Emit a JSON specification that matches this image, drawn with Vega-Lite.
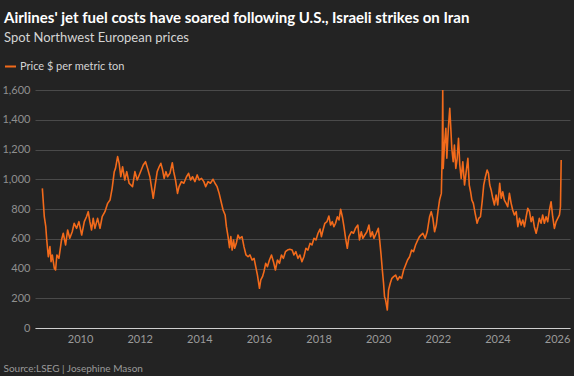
{
  "$schema": "https://vega.github.io/schema/vega-lite/v6.json",
  "width": 535,
  "height": 238,
  "autosize": {"type": "none"},
  "padding": {"left": 35, "top": 90, "right": 4, "bottom": 48},
  "background": "#232323",
  "config": {"view": {"stroke": null}, "font": "Lato"},
  "title": {
    "text": "Airlines' jet fuel costs have soared following U.S., Israeli strikes on Iran",
    "subtitle": "Spot Northwest European prices",
    "anchor": "start",
    "frame": "group",
    "dx": -31,
    "offset": 15,
    "font": "Lato",
    "fontSize": 15,
    "fontWeight": "bold",
    "color": "#ffffff",
    "subtitleFont": "Lato",
    "subtitleFontSize": 13,
    "subtitleColor": "#d4d4d4",
    "subtitlePadding": 6
  },
  "data": {"values": [
    {"date":"2008-09-26","price":939},{"date":"2008-10-20","price":748},{"date":"2008-11-07","price":681},{"date":"2008-11-19","price":592},
    {"date":"2008-12-08","price":479},{"date":"2008-12-28","price":547},{"date":"2009-01-11","price":446},{"date":"2009-01-26","price":491},
    {"date":"2009-02-20","price":401},{"date":"2009-03-07","price":390},{"date":"2009-03-23","price":491},{"date":"2009-04-17","price":468},
    {"date":"2009-05-19","price":592},{"date":"2009-06-09","price":637},{"date":"2009-07-08","price":558},{"date":"2009-08-02","price":659},
    {"date":"2009-08-28","price":603},{"date":"2009-09-27","price":647},{"date":"2009-10-21","price":704},{"date":"2009-11-20","price":670},
    {"date":"2009-12-18","price":715},{"date":"2010-01-21","price":625},{"date":"2010-02-22","price":715},{"date":"2010-03-21","price":748},
    {"date":"2010-04-11","price":782},{"date":"2010-05-01","price":715},{"date":"2010-05-22","price":659},{"date":"2010-06-11","price":737},
    {"date":"2010-07-02","price":670},{"date":"2010-08-04","price":737},{"date":"2010-09-02","price":670},{"date":"2010-09-29","price":748},
    {"date":"2010-11-02","price":782},{"date":"2010-12-05","price":838},{"date":"2011-01-03","price":860},{"date":"2011-01-29","price":939},
    {"date":"2011-02-24","price":1051},{"date":"2011-03-11","price":1073},{"date":"2011-04-06","price":1152},{"date":"2011-04-25","price":1107},
    {"date":"2011-05-15","price":1017},{"date":"2011-06-06","price":1084},{"date":"2011-07-03","price":995},{"date":"2011-07-27","price":1051},
    {"date":"2011-08-25","price":973},{"date":"2011-10-06","price":950},{"date":"2011-11-04","price":1051},{"date":"2011-12-02","price":995},
    {"date":"2012-01-05","price":1040},{"date":"2012-02-14","price":1096},{"date":"2012-03-13","price":1118},{"date":"2012-04-07","price":1073},
    {"date":"2012-05-05","price":1017},{"date":"2012-06-03","price":916},{"date":"2012-06-15","price":872},{"date":"2012-07-09","price":961},
    {"date":"2012-08-03","price":1051},{"date":"2012-08-27","price":1084},{"date":"2012-09-17","price":1107},{"date":"2012-10-08","price":1062},
    {"date":"2012-10-27","price":1006},{"date":"2012-11-18","price":1051},{"date":"2012-12-08","price":1017},{"date":"2013-01-06","price":1040},
    {"date":"2013-02-04","price":1111},{"date":"2013-02-21","price":1051},{"date":"2013-03-15","price":995},{"date":"2013-04-09","price":905},
    {"date":"2013-04-28","price":950},{"date":"2013-05-27","price":984},{"date":"2013-06-25","price":973},{"date":"2013-07-28","price":1017},
    {"date":"2013-08-22","price":1040},{"date":"2013-09-16","price":995},{"date":"2013-10-10","price":1017},{"date":"2013-11-08","price":984},
    {"date":"2013-12-06","price":1029},{"date":"2013-12-30","price":995},{"date":"2014-01-28","price":1006},{"date":"2014-02-25","price":984},
    {"date":"2014-03-20","price":950},{"date":"2014-04-18","price":984},{"date":"2014-05-17","price":973},{"date":"2014-06-18","price":1000},
    {"date":"2014-07-12","price":973},{"date":"2014-08-07","price":950},{"date":"2014-09-01","price":905},{"date":"2014-09-25","price":849},
    {"date":"2014-10-19","price":793},{"date":"2014-11-13","price":760},{"date":"2014-11-29","price":681},{"date":"2014-12-19","price":614},
    {"date":"2015-01-06","price":540},{"date":"2015-01-22","price":614},{"date":"2015-02-07","price":524},{"date":"2015-02-24","price":592},
    {"date":"2015-03-10","price":536},{"date":"2015-03-30","price":569},{"date":"2015-04-20","price":625},{"date":"2015-05-10","price":603},
    {"date":"2015-06-08","price":614},{"date":"2015-07-02","price":547},{"date":"2015-07-27","price":491},{"date":"2015-08-21","price":479},
    {"date":"2015-09-14","price":491},{"date":"2015-10-09","price":457},{"date":"2015-11-03","price":468},{"date":"2015-11-23","price":412},
    {"date":"2015-12-14","price":356},{"date":"2016-01-08","price":267},{"date":"2016-01-24","price":323},{"date":"2016-02-14","price":345},
    {"date":"2016-03-03","price":379},{"date":"2016-03-24","price":435},{"date":"2016-04-14","price":412},{"date":"2016-05-09","price":457},
    {"date":"2016-06-03","price":491},{"date":"2016-06-27","price":446},{"date":"2016-07-21","price":390},{"date":"2016-08-15","price":457},
    {"date":"2016-09-09","price":435},{"date":"2016-10-03","price":491},{"date":"2016-10-27","price":468},{"date":"2016-11-21","price":513},
    {"date":"2016-12-16","price":524},{"date":"2017-01-13","price":529},{"date":"2017-02-11","price":524},{"date":"2017-03-05","price":491},
    {"date":"2017-03-29","price":513},{"date":"2017-04-23","price":468},{"date":"2017-05-17","price":491},{"date":"2017-06-11","price":446},
    {"date":"2017-07-05","price":479},{"date":"2017-07-30","price":536},{"date":"2017-08-24","price":524},{"date":"2017-09-18","price":569},
    {"date":"2017-10-12","price":558},{"date":"2017-11-06","price":603},{"date":"2017-11-30","price":592},{"date":"2017-12-25","price":637},
    {"date":"2018-01-19","price":665},{"date":"2018-02-05","price":614},{"date":"2018-02-24","price":659},{"date":"2018-03-19","price":704},
    {"date":"2018-04-13","price":715},{"date":"2018-05-07","price":753},{"date":"2018-05-28","price":692},{"date":"2018-06-18","price":715},
    {"date":"2018-07-08","price":681},{"date":"2018-07-28","price":704},{"date":"2018-08-19","price":748},{"date":"2018-09-08","price":726},
    {"date":"2018-09-28","price":798},{"date":"2018-10-19","price":748},{"date":"2018-11-08","price":681},{"date":"2018-11-28","price":603},
    {"date":"2018-12-19","price":536},{"date":"2019-01-08","price":614},{"date":"2019-02-07","price":647},{"date":"2019-03-05","price":637},
    {"date":"2019-03-29","price":670},{"date":"2019-04-27","price":692},{"date":"2019-05-17","price":592},{"date":"2019-06-08","price":647},
    {"date":"2019-06-27","price":603},{"date":"2019-07-21","price":625},{"date":"2019-08-16","price":647},{"date":"2019-09-10","price":692},
    {"date":"2019-09-30","price":614},{"date":"2019-10-21","price":647},{"date":"2019-11-10","price":603},{"date":"2019-12-09","price":637},
    {"date":"2020-01-03","price":670},{"date":"2020-01-19","price":592},{"date":"2020-02-04","price":502},{"date":"2020-02-21","price":390},
    {"date":"2020-03-07","price":301},{"date":"2020-03-19","price":210},{"date":"2020-04-01","price":188},{"date":"2020-04-22","price":121},
    {"date":"2020-05-07","price":255},{"date":"2020-05-28","price":301},{"date":"2020-06-17","price":334},{"date":"2020-07-08","price":345},
    {"date":"2020-08-02","price":356},{"date":"2020-08-26","price":323},{"date":"2020-09-20","price":345},{"date":"2020-10-14","price":334},
    {"date":"2020-11-08","price":390},{"date":"2020-12-02","price":424},{"date":"2020-12-26","price":457},{"date":"2021-01-20","price":479},
    {"date":"2021-02-14","price":524},{"date":"2021-03-09","price":513},{"date":"2021-04-03","price":558},{"date":"2021-05-01","price":592},
    {"date":"2021-05-21","price":614},{"date":"2021-07-01","price":637},{"date":"2021-07-30","price":603},{"date":"2021-08-24","price":647},
    {"date":"2021-09-22","price":748},{"date":"2021-10-12","price":782},{"date":"2021-11-01","price":737},{"date":"2021-11-22","price":647},
    {"date":"2021-12-13","price":692},{"date":"2022-01-02","price":782},{"date":"2022-01-22","price":860},{"date":"2022-02-13","price":905},
    {"date":"2022-02-24","price":1185},{"date":"2022-03-02","price":1600},{"date":"2022-03-08","price":1073},{"date":"2022-03-23","price":1230},
    {"date":"2022-04-09","price":1342},{"date":"2022-04-21","price":1141},{"date":"2022-05-03","price":1275},{"date":"2022-05-15","price":1387},
    {"date":"2022-05-27","price":1477},{"date":"2022-06-09","price":1342},{"date":"2022-06-21","price":1208},{"date":"2022-07-08","price":1118},
    {"date":"2022-07-23","price":1230},{"date":"2022-08-09","price":1073},{"date":"2022-08-26","price":1141},{"date":"2022-09-11","price":1275},
    {"date":"2022-09-27","price":1096},{"date":"2022-10-14","price":1006},{"date":"2022-11-03","price":1118},{"date":"2022-11-24","price":961},
    {"date":"2022-12-14","price":1051},{"date":"2023-01-04","price":1141},{"date":"2023-01-21","price":961},{"date":"2023-02-06","price":916},
    {"date":"2023-02-22","price":860},{"date":"2023-03-12","price":838},{"date":"2023-04-03","price":771},{"date":"2023-04-27","price":704},
    {"date":"2023-05-16","price":737},{"date":"2023-06-07","price":748},{"date":"2023-06-28","price":849},{"date":"2023-07-17","price":961},
    {"date":"2023-08-07","price":1017},{"date":"2023-08-28","price":1062},{"date":"2023-09-13","price":1040},{"date":"2023-09-29","price":961},
    {"date":"2023-10-16","price":928},{"date":"2023-11-05","price":872},{"date":"2023-11-25","price":827},{"date":"2023-12-16","price":894},
    {"date":"2024-01-05","price":827},{"date":"2024-01-29","price":973},{"date":"2024-02-16","price":872},{"date":"2024-03-06","price":916},
    {"date":"2024-03-26","price":860},{"date":"2024-04-17","price":838},{"date":"2024-05-06","price":815},{"date":"2024-05-27","price":905},
    {"date":"2024-06-17","price":838},{"date":"2024-07-06","price":793},{"date":"2024-07-27","price":760},{"date":"2024-08-18","price":782},
    {"date":"2024-09-07","price":681},{"date":"2024-09-27","price":737},{"date":"2024-10-18","price":692},{"date":"2024-11-07","price":726},
    {"date":"2024-11-27","price":681},{"date":"2024-12-18","price":748},{"date":"2025-01-07","price":805},{"date":"2025-01-28","price":782},
    {"date":"2025-02-17","price":715},{"date":"2025-03-08","price":748},{"date":"2025-03-28","price":681},{"date":"2025-04-19","price":637},
    {"date":"2025-05-08","price":681},{"date":"2025-05-28","price":737},{"date":"2025-06-19","price":704},{"date":"2025-07-08","price":760},
    {"date":"2025-07-29","price":704},{"date":"2025-08-19","price":748},{"date":"2025-09-08","price":715},{"date":"2025-09-29","price":793},
    {"date":"2025-10-19","price":849},{"date":"2025-11-08","price":748},{"date":"2025-11-29","price":670},{"date":"2025-12-20","price":715},
    {"date":"2026-01-09","price":737},{"date":"2026-01-30","price":760},{"date":"2026-02-11","price":815},{"date":"2026-02-20","price":1129}
  ]},
  "mark": {"type": "line", "strokeWidth": 1.6, "strokeJoin": "round", "clip": true},
  "encoding": {
    "x": {
      "field": "date", "type": "temporal",
      "scale": {"domain": ["2008-06-28", "2026-06-08"]},
      "axis": {
        "values": [{"year": 2010}, {"year": 2012}, {"year": 2014}, {"year": 2016}, {"year": 2018}, {"year": 2020}, {"year": 2022}, {"year": 2024}, {"year": 2026}],
        "format": "%Y",
        "grid": false, "ticks": false,
        "domainColor": "#cfcfcf", "domainWidth": 1.2,
        "labelColor": "#9a9a9a", "labelFont": "Lato", "labelFontSize": 11, "labelPadding": 5,
        "title": "Source:LSEG | Josephine Mason",
        "titleX": -32, "titleY": 43, "titleAlign": "left", "titleAnchor": "start", "titleBaseline": "alphabetic",
        "titleFont": "Lato", "titleFontSize": 10, "titleFontWeight": "normal", "titleColor": "#9a9a9a"
      }
    },
    "y": {
      "field": "price", "type": "quantitative",
      "scale": {"domain": [0, 1600], "nice": false},
      "axis": {
        "values": [0, 200, 400, 600, 800, 1000, 1200, 1400, 1600],
        "format": ",.0f",
        "title": null,
        "grid": true, "gridColor": "#4a4a4a", "gridWidth": 1,
        "domain": false, "ticks": false,
        "labelColor": "#8f8f8f", "labelFont": "Lato", "labelFontSize": 11, "labelPadding": 5
      }
    },
    "color": {
      "datum": "Price $ per metric ton",
      "scale": {"range": ["#f26a1b"]},
      "legend": {
        "orient": "none", "legendX": -31, "legendY": -30,
        "title": null, "padding": 0,
        "symbolType": "stroke", "symbolSize": 121, "symbolStrokeWidth": 2,
        "labelFont": "Lato", "labelFontSize": 11, "labelColor": "#d4d4d4", "labelOffset": 3
      }
    }
  }
}
